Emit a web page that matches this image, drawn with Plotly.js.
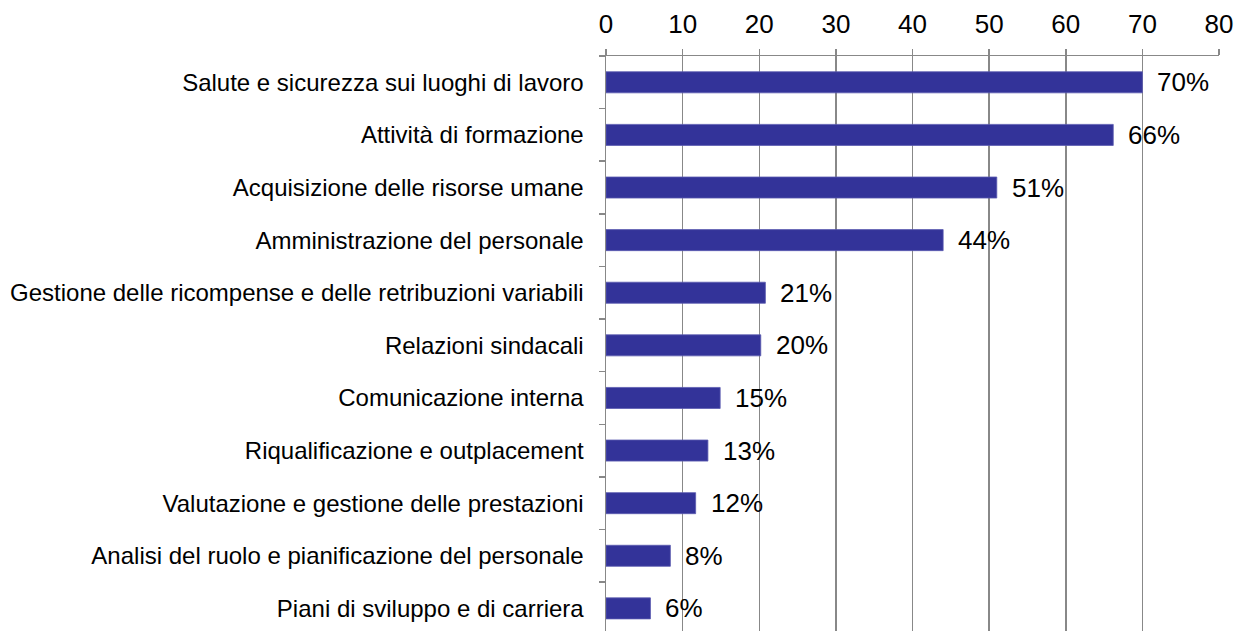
<!DOCTYPE html>
<html>
<head>
<meta charset="utf-8">
<script src="https://cdn.plot.ly/plotly-3.0.1.min.js"></script>
<style>html,body{margin:0;padding:0;background:#fff;}#chart{width:1238px;height:631px;}</style>
</head>
<body>
<div id="chart"></div>
<script>
const categories = [
  "Salute e sicurezza sui luoghi di lavoro",
  "Attività di formazione",
  "Acquisizione delle risorse umane",
  "Amministrazione del personale",
  "Gestione delle ricompense e delle retribuzioni variabili",
  "Relazioni sindacali",
  "Comunicazione interna",
  "Riqualificazione e outplacement",
  "Valutazione e gestione delle prestazioni",
  "Analisi del ruolo e pianificazione del personale",
  "Piani di sviluppo e di carriera"
];
const values = [70, 66.2, 51, 44, 20.8, 20.2, 14.9, 13.3, 11.7, 8.4, 5.8];
const valueLabels = ["70%", "66%", "51%", "44%", "21%", "20%", "15%", "13%", "12%", "8%", "6%"];
const xTicks = [0, 10, 20, 30, 40, 50, 60, 70, 80];

const FONT = "Liberation Sans, Arial, sans-serif";
const GRID = "#888888";

const trace = {
  type: "bar",
  orientation: "h",
  x: values,
  y: categories,
  width: 0.4,
  marker: {color: "#333399", line: {color: "#5b5bb0", width: 0.8}},
  hoverinfo: "skip"
};

const annotations = values.map((v, i) => ({
  x: v, y: categories[i], xref: "x", yref: "y",
  text: valueLabels[i], showarrow: false,
  xanchor: "left", yanchor: "middle", xshift: 13,
  font: {family: FONT, size: 26, color: "#000"}
}));

const layout = {
  width: 1238, height: 631,
  margin: {l: 606, r: 19, t: 56, b: 0, pad: 0},
  paper_bgcolor: "#fff", plot_bgcolor: "#fff",
  showlegend: false,
  font: {family: FONT, color: "#000"},
  xaxis: {
    side: "top", range: [0, 80], tickvals: xTicks, ticktext: xTicks.map(String),
    showgrid: true, gridcolor: GRID, gridwidth: 1.5,
    zeroline: false, showline: true, linecolor: GRID, linewidth: 1.5,
    ticks: "outside", ticklen: 6, tickcolor: GRID, tickwidth: 1.5,
    ticklabelstandoff: 5,
    tickfont: {family: FONT, size: 26, color: "#000"},
    fixedrange: true
  },
  yaxis: {
    type: "category", categoryorder: "array", categoryarray: categories,
    range: [10.43, -0.5],
    showgrid: false, zeroline: false,
    showline: true, linecolor: GRID, linewidth: 1.5,
    ticks: "outside", tickson: "boundaries", ticklen: 6, tickcolor: GRID, tickwidth: 1.5,
    ticklabelstandoff: 16,
    tickfont: {family: FONT, size: 24, color: "#000"},
    fixedrange: true
  },
  annotations: annotations
};

Plotly.newPlot("chart", [trace], layout, {displayModeBar: false, staticPlot: true});
</script>
</body>
</html>
